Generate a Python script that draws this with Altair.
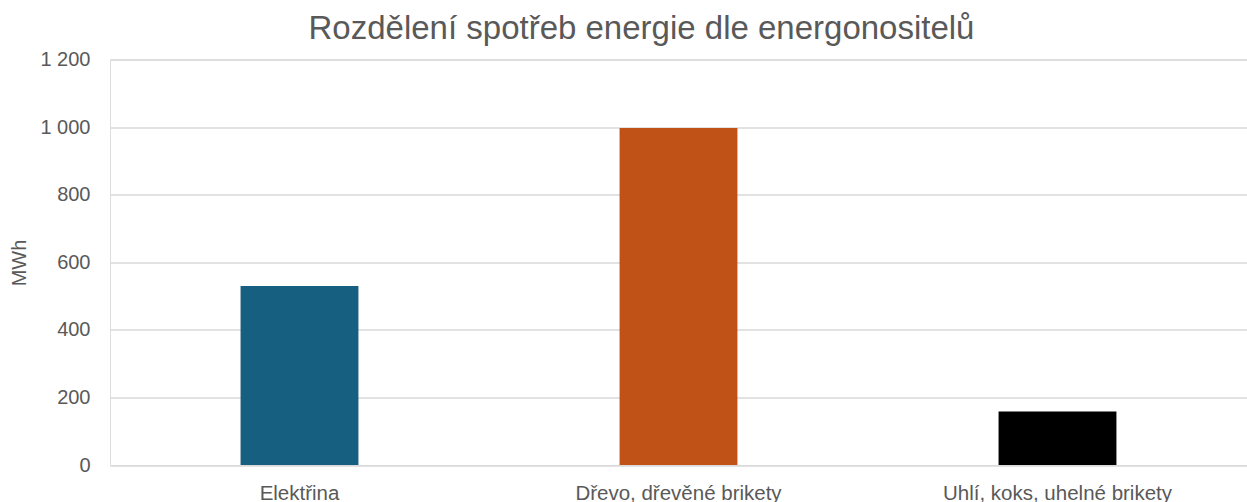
import altair as alt
import pandas as pd

categories = ["Elektřina", "Dřevo, dřevěné brikety", "Uhlí, koks, uhelné brikety"]
values = [530, 997, 158]
colors = ["#175F80", "#C05217", "#000000"]

df = pd.DataFrame({"kategorie": categories, "hodnota": values, "barva": colors})

FONT = "Liberation Sans"
TXT = "#595959"

chart = alt.Chart(df).mark_bar().encode(
    x=alt.X("kategorie:N", sort=categories,
            scale=alt.Scale(paddingInner=0.689, paddingOuter=0.3445),
            axis=alt.Axis(title=None, labelAngle=0, labelFont=FONT, labelFontSize=20.5,
                          labelColor=TXT, labelPadding=18, ticks=False, domain=False,
                          labelBaseline="top", labelLimit=500)),
    y=alt.Y("hodnota:Q", scale=alt.Scale(domain=[0, 1200], nice=False),
            axis=alt.Axis(title="MWh", values=[0, 200, 400, 600, 800, 1000, 1200],
                          format=",d", labelFont=FONT, labelFontSize=20, labelColor=TXT,
                          labelPadding=20, ticks=False, domain=False,
                          gridColor="#D9D9D9", gridWidth=1.5,
                          titleFont=FONT, titleFontSize=20, titleFontWeight="normal",
                          titleColor=TXT, titleX=-91, titleY=203, titleBaseline="middle",
                          titleAngle=-90, titleAlign="center")),
    color=alt.Color("barva:N", scale=None, legend=None),
).properties(
    width=1137,
    height=405.5,
    title=alt.TitleParams("Rozdělení spotřeb energie dle energonositelů", font=FONT,
                          fontSize=33, fontWeight="normal", color=TXT, anchor="middle",
                          dx=-37, offset=4),
    autosize=alt.AutoSizeParams(type="none"),
    padding={"left": 110, "top": 59.5, "right": 0, "bottom": 37},
).configure_view(stroke=None).configure(
    locale={"number": {"decimal": ",", "thousands": "\u00a0", "grouping": [3], "currency": ["", " Kč"]}}
)

chart.save("out.html", embed_options={"renderer": "svg", "actions": False})
